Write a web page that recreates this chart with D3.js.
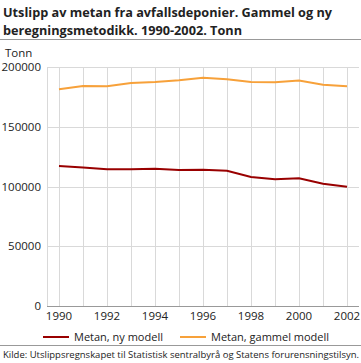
<!DOCTYPE html>
<html lang="no">
<head>
  <meta charset="UTF-8" />
  <title>Utslipp av metan fra avfallsdeponier</title>
  <script src="https://cdn.jsdelivr.net/npm/d3@7"></script>
  <style>
    body { margin: 0; background: #fff; font-family: "Open Sans", sans-serif; }
    svg text { fill: #222; }
  </style>
</head>
<body>
  <svg id="chart" width="361" height="363"></svg>
  <script>
    // years and series
    var years = [1990, 1991, 1992, 1993, 1994, 1995, 1996, 1997, 1998, 1999, 2000, 2001, 2002];
    var nyModell = [117200, 116000, 114400, 114400, 114900, 113800, 114100, 113200, 107900, 106000, 106800, 102300, 99800];
    var gammelModell = [181300, 184100, 183800, 186600, 187400, 188900, 191000, 189700, 187400, 187200, 188600, 185200, 183800];
    var yTicks = [0, 50000, 100000, 150000, 200000];
    var xTicks = [1990, 1992, 1994, 1996, 1998, 2000, 2002];

    var series = [
      { name: "Metan, ny modell", values: nyModell, color: "#990000" },
      { name: "Metan, gammel modell", values: gammelModell, color: "#f7a13a" }
    ];

    var svg = d3.select("#chart");

    // title (fitted to the reference width, the original font is narrower)
    svg.append("text").attr("x", 3).attr("y", 17)
       .style("font-size", "13px").style("font-weight", "bold")
       .attr("textLength", 329).attr("lengthAdjust", "spacingAndGlyphs")
       .text("Utslipp av metan fra avfallsdeponier. Gammel og ny");
    svg.append("text").attr("x", 3).attr("y", 35)
       .style("font-size", "13px").style("font-weight", "bold")
       .attr("textLength", 239).attr("lengthAdjust", "spacingAndGlyphs")
       .text("beregningsmetodikk. 1990-2002. Tonn");
    svg.append("line").attr("x1", 0).attr("x2", 361).attr("y1", 39.5).attr("y2", 39.5)
       .attr("stroke", "#999").attr("stroke-width", 1);

    var x = d3.scaleLinear().domain([1989.5, 2002.5]).range([47, 359]);
    var y = d3.scaleLinear().domain([0, 200000]).range([306, 67]);

    // grid
    svg.append("g").selectAll("line").data(years).join("line")
       .attr("x1", d => Math.round(x(d)) + 0.5).attr("x2", d => Math.round(x(d)) + 0.5)
       .attr("y1", y(200000)).attr("y2", y(0))
       .attr("stroke", "#d9d9d9").attr("stroke-width", 1);
    svg.append("g").selectAll("line").data(yTicks).join("line")
       .attr("x1", x.range()[0]).attr("x2", x.range()[1])
       .attr("y1", d => Math.round(y(d)) + 0.5).attr("y2", d => Math.round(y(d)) + 0.5)
       .attr("stroke", d => d === 0 ? "#999" : "#d9d9d9").attr("stroke-width", 1);
    svg.append("line")
       .attr("x1", 47.5).attr("x2", 47.5).attr("y1", y(200000)).attr("y2", y(0))
       .attr("stroke", "#d9d9d9");

    // y tick labels
    svg.append("g").selectAll("text").data(yTicks).join("text")
       .attr("x", 41).attr("y", d => y(d) + 4)
       .attr("text-anchor", "end").style("font-size", "11.5px")
       .text(d => d);
    svg.append("text").attr("x", 5).attr("y", 57).style("font-size", "11.5px").text("Tonn");

    // x tick labels
    svg.append("g").selectAll("text").data(xTicks).join("text")
       .attr("x", d => x(d)).attr("y", 320)
       .attr("text-anchor", "middle").style("font-size", "11.5px")
       .text(d => d);

    // lines
    var line = d3.line().x((d, i) => x(years[i])).y(d => y(d));
    svg.append("g").selectAll("path").data(series).join("path")
       .attr("d", d => line(d.values))
       .attr("fill", "none").attr("stroke", d => d.color).attr("stroke-width", 2);

    // legend
    var legend = svg.append("g").selectAll("g").data(series).join("g")
       .attr("transform", (d, i) => "translate(" + [43, 180][i] + ",337)");
    legend.append("line").attr("x1", 0).attr("x2", 26).attr("y1", 0).attr("y2", 0)
       .attr("stroke", d => d.color).attr("stroke-width", 2);
    legend.append("text").attr("x", 31).attr("y", 4).style("font-size", "11px").text(d => d.name);

    // source
    svg.append("line").attr("x1", 0).attr("x2", 361).attr("y1", 345.5).attr("y2", 345.5)
       .attr("stroke", "#999");
    svg.append("text").attr("x", 3).attr("y", 358).style("font-size", "9px")
       .attr("textLength", 356).attr("lengthAdjust", "spacingAndGlyphs")
       .text("Kilde: Utslippsregnskapet til Statistisk sentralbyrå og Statens forurensningstilsyn.");
  </script>
</body>
</html>
